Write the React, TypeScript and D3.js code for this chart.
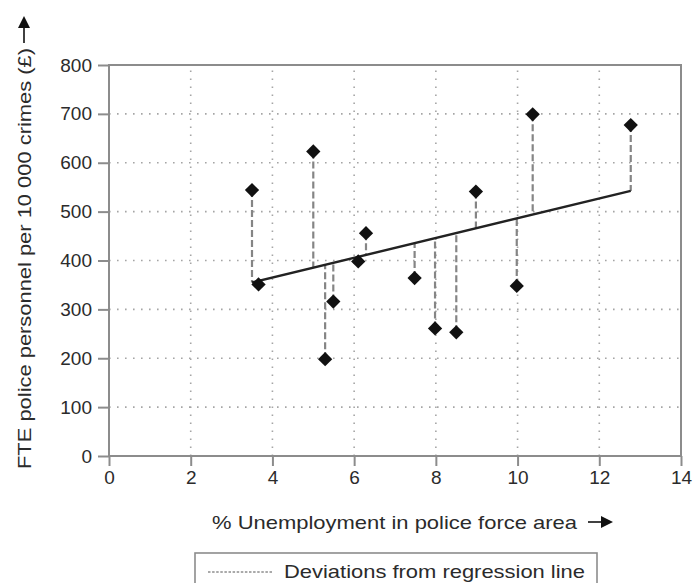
import React, { useEffect, useRef } from 'react';
import * as d3 from 'd3';

// % unemployment in police force area
const unemployment: number[] = [3.5, 3.66, 5.0, 5.29, 5.49, 6.1, 6.29, 7.48, 7.98, 8.5, 8.98, 9.98, 10.37, 12.77];
// FTE police personnel per 10 000 crimes
const personnel: number[] = [544, 351, 623, 198, 316, 398, 456, 364, 261, 253, 541, 348, 699, 677];

const xTicks: number[] = [0, 2, 4, 6, 8, 10, 12, 14];
const yTicks: number[] = [0, 100, 200, 300, 400, 500, 600, 700, 800];

const xLabel = '% Unemployment in police force area';
const yLabel = 'FTE police personnel per 10 000 crimes (£)';
const legendLabel = 'Deviations from regression line';

const width = 693;
const height = 583;

const ScatterChart = () => {
    const svgRef = useRef<SVGSVGElement | null>(null);

    useEffect(() => {
        const svg = d3.select(svgRef.current);
        svg.selectAll('*').remove();

        const font = '"Liberation Sans", Arial, sans-serif';
        const textColor = '#2b2b2b';
        const frameColor = '#8c8c8c';

        const x = d3.scaleLinear().domain([0, 14]).range([109, 681]);
        const y = d3.scaleLinear().domain([0, 800]).range([456, 65]);

        const data = unemployment.map((u, i) => ({ x: u, y: personnel[i] }));

        // least squares fit
        const mx = d3.mean(data, d => d.x) as number;
        const my = d3.mean(data, d => d.y) as number;
        const sxy = d3.sum(data, d => (d.x - mx) * (d.y - my));
        const sxx = d3.sum(data, d => (d.x - mx) * (d.x - mx));
        const slope = sxy / sxx;
        const intercept = my - slope * mx;
        const fit = (v: number) => intercept + slope * v;

        // dotted grid
        svg.append('g')
            .selectAll('line')
            .data(yTicks.slice(1, -1))
            .enter()
            .append('line')
            .attr('x1', x(0))
            .attr('x2', x(14))
            .attr('y1', d => y(d))
            .attr('y2', d => y(d))
            .attr('stroke', '#a5a5a5')
            .attr('stroke-width', 1.6)
            .attr('stroke-dasharray', '1.6 6.4');

        svg.append('g')
            .selectAll('line')
            .data(xTicks.slice(1, -1))
            .enter()
            .append('line')
            .attr('x1', d => x(d))
            .attr('x2', d => x(d))
            .attr('y1', y(0))
            .attr('y2', y(800))
            .attr('stroke', '#a5a5a5')
            .attr('stroke-width', 1.6)
            .attr('stroke-dasharray', '1.6 6.4');

        // frame
        svg.append('rect')
            .attr('x', x(0))
            .attr('y', y(800))
            .attr('width', x(14) - x(0))
            .attr('height', y(0) - y(800))
            .attr('fill', 'none')
            .attr('stroke', frameColor)
            .attr('stroke-width', 2);

        // axes
        const yAxis = d3.axisLeft(y).tickValues(yTicks).tickSize(11).tickPadding(6).tickFormat(d3.format('d'));
        const gy = svg.append('g')
            .attr('transform', `translate(${x(0)},0)`)
            .call(yAxis);
        gy.select('.domain').remove();
        gy.selectAll('line').attr('stroke', frameColor).attr('stroke-width', 2);
        gy.selectAll('text')
            .attr('font-size', '19px')
            .attr('font-family', font)
            .attr('fill', textColor);

        const xAxis = d3.axisBottom(x).tickValues(xTicks).tickSize(10).tickPadding(5).tickFormat(d3.format('d'));
        const gx = svg.append('g')
            .attr('transform', `translate(0,${y(0)})`)
            .call(xAxis);
        gx.select('.domain').remove();
        gx.selectAll('line').attr('stroke', frameColor).attr('stroke-width', 2);
        gx.selectAll('text')
            .attr('font-size', '19px')
            .attr('font-family', font)
            .attr('fill', textColor);

        // deviations from regression line
        svg.append('g')
            .selectAll('line')
            .data(data)
            .enter()
            .append('line')
            .attr('x1', d => x(d.x))
            .attr('x2', d => x(d.x))
            .attr('y1', d => y(d.y))
            .attr('y2', d => y(fit(d.x)))
            .attr('stroke', '#858585')
            .attr('stroke-width', 2.2)
            .attr('stroke-dasharray', '7 3');

        // regression line
        const xMin = d3.min(data, d => d.x) as number;
        const xMax = d3.max(data, d => d.x) as number;
        const line = d3.line<number>()
            .x(d => x(d))
            .y(d => y(fit(d)));
        svg.append('path')
            .datum([xMin, xMax])
            .attr('d', line)
            .attr('fill', 'none')
            .attr('stroke', '#222')
            .attr('stroke-width', 2.4);

        // diamond markers
        const diamond = d3.symbol().type(d3.symbolDiamond2).size(130);
        svg.append('g')
            .selectAll('path')
            .data(data)
            .enter()
            .append('path')
            .attr('d', diamond)
            .attr('transform', d => `translate(${x(d.x)},${y(d.y)})`)
            .attr('fill', '#111');

        // axis titles
        svg.append('text')
            .attr('x', 212)
            .attr('y', 529)
            .attr('font-size', '19px')
            .attr('font-family', font)
            .attr('fill', textColor)
            .attr('textLength', 365)
            .attr('lengthAdjust', 'spacingAndGlyphs')
            .text(xLabel);

        svg.append('line')
            .attr('x1', 588).attr('x2', 604)
            .attr('y1', 522).attr('y2', 522)
            .attr('stroke', '#111').attr('stroke-width', 1.6);
        svg.append('path')
            .attr('d', 'M613,522 L601,516 L601,528 Z')
            .attr('fill', '#111');

        svg.append('text')
            .attr('transform', 'translate(31,469) rotate(-90)')
            .attr('font-size', '19px')
            .attr('font-family', font)
            .attr('fill', textColor)
            .attr('textLength', 421)
            .attr('lengthAdjust', 'spacingAndGlyphs')
            .text(yLabel);

        svg.append('line')
            .attr('x1', 24).attr('x2', 24)
            .attr('y1', 43).attr('y2', 26)
            .attr('stroke', '#111').attr('stroke-width', 1.6);
        svg.append('path')
            .attr('d', 'M24,16 L18,28 L30,28 Z')
            .attr('fill', '#111');

        // legend
        svg.append('rect')
            .attr('x', 195)
            .attr('y', 553)
            .attr('width', 402)
            .attr('height', 40)
            .attr('fill', 'none')
            .attr('stroke', frameColor)
            .attr('stroke-width', 1.6);
        svg.append('line')
            .attr('x1', 208).attr('x2', 273)
            .attr('y1', 572).attr('y2', 572)
            .attr('stroke', '#555')
            .attr('stroke-width', 1)
            .attr('stroke-dasharray', '2.5 1.6');
        svg.append('text')
            .attr('x', 284)
            .attr('y', 578)
            .attr('font-size', '19px')
            .attr('font-family', font)
            .attr('fill', textColor)
            .attr('textLength', 301)
            .attr('lengthAdjust', 'spacingAndGlyphs')
            .text(legendLabel);
    }, []);

    return <svg ref={svgRef} width={width} height={height} style={{ display: 'block' }} />;
};

export default function App() {
    return (
        <div style={{ position: 'absolute', left: 0, top: 0, background: '#fff' }}>
            <ScatterChart />
        </div>
    );
}
